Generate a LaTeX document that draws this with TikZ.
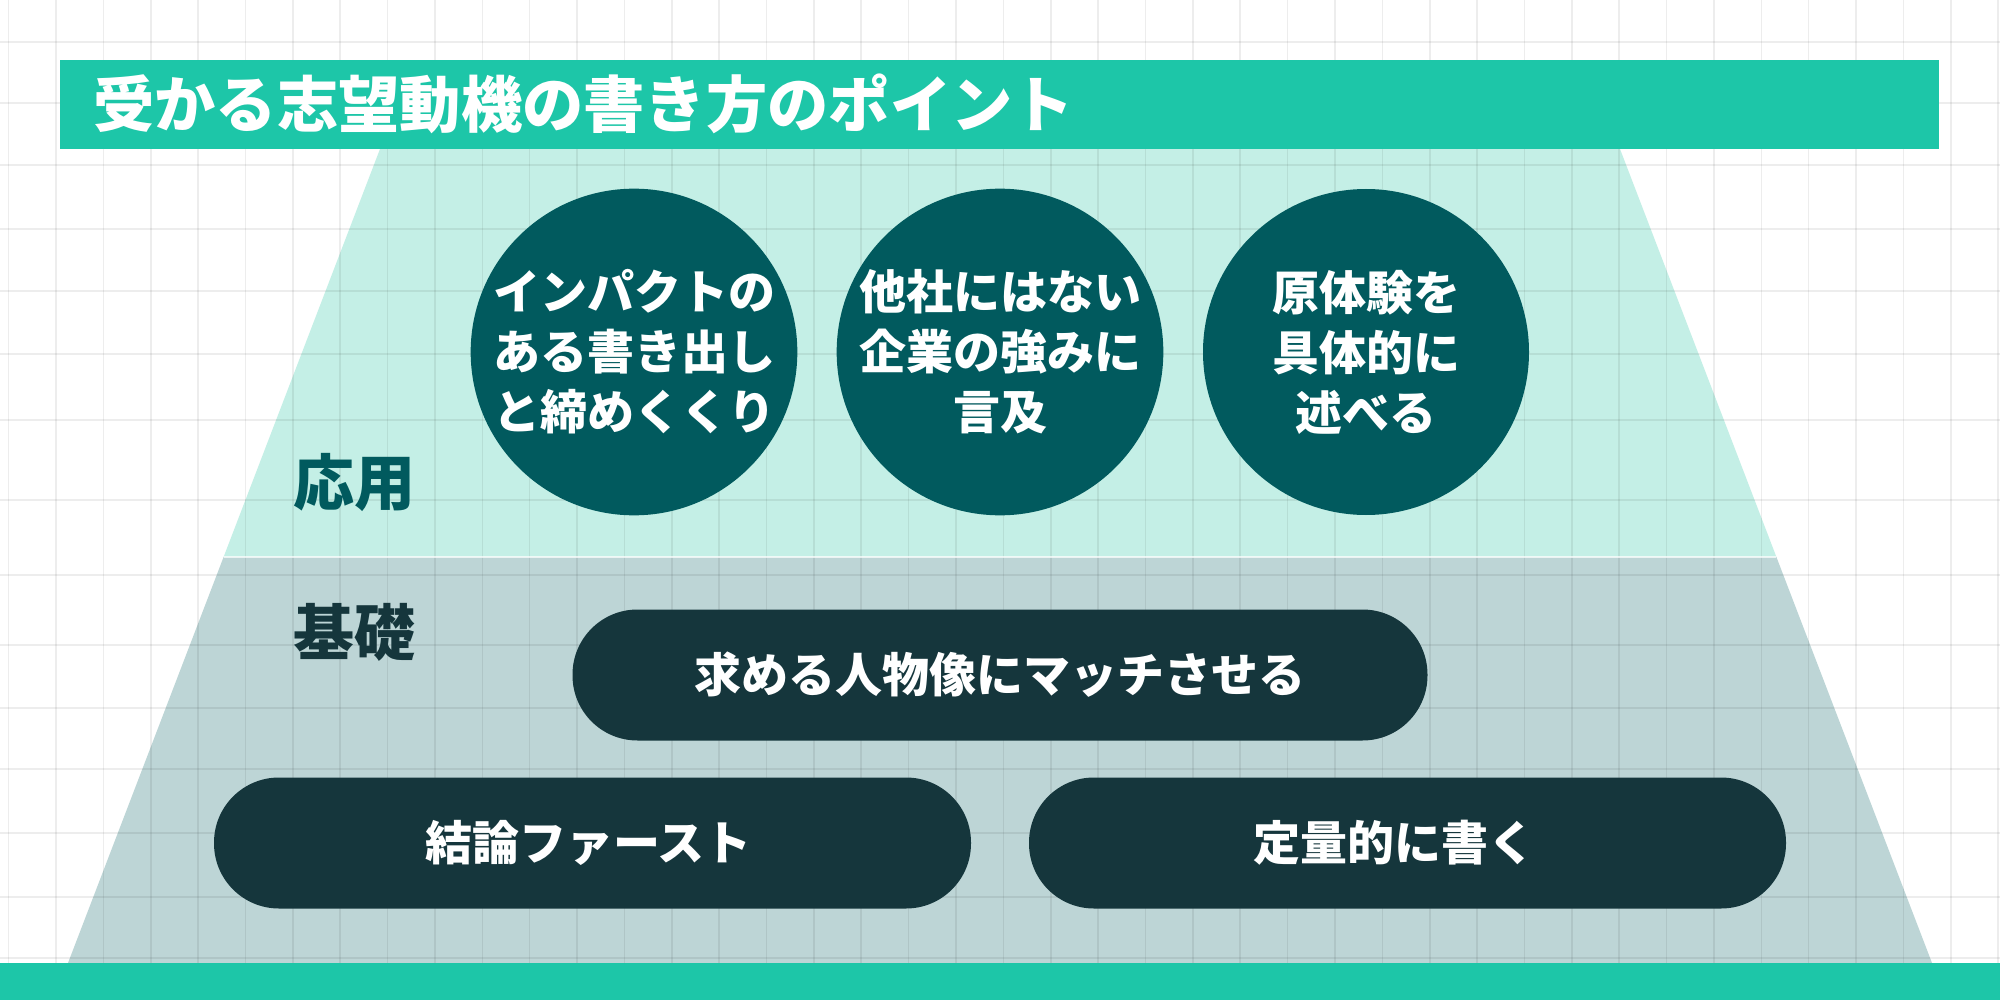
\documentclass[tikz,border=0pt]{standalone}
\usepackage{fontspec}
\setmainfont{Noto Sans CJK JP}
\definecolor{barteal}{HTML}{1DC6A8}
\definecolor{applybg}{HTML}{C4EFE6}
\definecolor{basebg}{HTML}{BDD5D6}
\definecolor{circteal}{HTML}{015A5E}
\definecolor{pilldark}{HTML}{15363C}
\tikzset{
  gridline/.style={black, opacity=0.07, line width=1.6pt},
  bubble/.style={circle, fill=circteal, minimum size=326pt, inner sep=0pt,
    text=white, align=center, font=\bfseries\fontsize{47}{60}\selectfont},
  pill/.style={rectangle, rounded corners=65pt, fill=pilldark, text=white,
    minimum height=131pt, inner sep=0pt, font=\bfseries\fontsize{47}{56}\selectfont},
  lvl/.style={inner sep=0pt, font=\bfseries\fontsize{61}{61}\selectfont},
  titletext/.style={inner sep=0pt, text=white, font=\bfseries\fontsize{61.3}{61.3}\selectfont},
}
\begin{document}
\begin{tikzpicture}[x=1pt,y=-1pt]
\useasboundingbox (0,0) rectangle (2000,1000);
\fill[white] (0,0) rectangle (2000,1000);
% pyramid layers
\fill[applybg] (380,149) -- (1620,149) -- (1776.4,557) -- (223.6,557) -- cycle;
\fill[basebg] (223.6,557) -- (1776.4,557) -- (1932,963) -- (68,963) -- cycle;
% grid texture
\foreach \i in {0,...,42} {
  \draw[gridline] ({8.6+47.37*\i},0) -- ({8.6+47.37*\i},1000);
}
\foreach \y in {42,103,165,229,291,354,420,500,575,645,708,769,833,897,958} {
  \draw[gridline] (0,\y) -- (2000,\y);
}
\draw[white, opacity=0.7, line width=1.5pt] (223.6,557) -- (1776.4,557);
% title
\fill[barteal] (60,60) rectangle (1939,149);
\node[titletext, anchor=west] (title) at (93,104) {受かる志望動機の書き方のポイント};
% level labels
\node[lvl, text=circteal] (ouyou) at (354,483) {応用};
\node[lvl, text=pilldark] (kiso) at (354,632) {基礎};
% applied points
\node[bubble] (c1) at (634,352) {インパクトの\\ある書き出し\\と締めくくり};
\node[bubble] (c2) at (1000,352) {他社にはない\\企業の強みに\\言及};
\node[bubble] (c3) at (1366,352) {原体験を\\具体的に\\述べる};
% basic points
\node[pill, minimum width=855pt] (p1) at (1000,675) {求める人物像にマッチさせる};
\node[pill, minimum width=757pt] (p2) at (592.5,843) {結論ファースト\kern8pt};
\node[pill, minimum width=757pt] (p3) at (1407.5,843) {定量的に書く\kern26pt};
% bottom bar
\fill[barteal] (0,963) rectangle (2000,1000);
\end{tikzpicture}
\end{document}
